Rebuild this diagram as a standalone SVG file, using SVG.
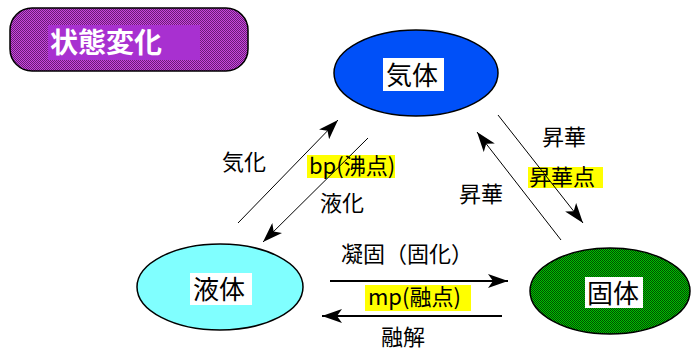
<svg xmlns="http://www.w3.org/2000/svg" width="691" height="360" viewBox="0 0 691 360">
<defs>
<pattern id="purpleDither" width="2" height="2" patternUnits="userSpaceOnUse">
<rect width="2" height="2" fill="#c848dc"/>
<rect x="0" y="0" width="1" height="1" fill="#6a1a78"/>
<rect x="1" y="1" width="1" height="1" fill="#6a1a78"/>
</pattern>
<pattern id="greenDither" width="2" height="2" patternUnits="userSpaceOnUse">
<rect width="2" height="2" fill="#00c000"/>
<rect x="0" y="0" width="1" height="1" fill="#004a00"/>
<rect x="1" y="1" width="1" height="1" fill="#004a00"/>
</pattern>
<marker id="arrow" viewBox="0 0 20 14" refX="20" refY="7" markerWidth="20" markerHeight="14" markerUnits="userSpaceOnUse" orient="auto">
<path d="M0,0 L20,7 L0,14 L5,7 Z" fill="#000"/>
</marker>
</defs>
<style>
text{font-family:"Noto Sans CJK JP","Noto Sans",sans-serif;fill:#000}
.lbl{font-size:22px}
.node{stroke:#000;stroke-width:1.5}
.box{fill:#fff}
.hl{fill:#ffff00}
.conn{stroke:#000;stroke-width:1;fill:none;marker-end:url(#arrow)}
.conn2{stroke:#000;stroke-width:2;fill:none;marker-end:url(#arrow)}
</style>
<rect width="691" height="360" fill="#fff"/>
<g id="title">
<rect x="10" y="8" width="238" height="63" rx="22" ry="22" fill="url(#purpleDither)" stroke="#000" stroke-width="1.5"/>
<rect x="48" y="25" width="152" height="35" fill="#a830d0"/>
<text x="50" y="53" font-size="28" font-weight="bold" style="fill:#fff">状態変化</text>
</g>
<g id="gas">
<ellipse class="node" cx="416" cy="73" rx="82" ry="43" fill="#0050f8"/>
<rect class="box" x="383" y="58" width="61" height="33"/>
<text x="386" y="85" font-size="26">気体</text>
</g>
<g id="liquid">
<ellipse class="node" cx="220" cy="287" rx="83" ry="43" fill="#80ffff"/>
<rect class="box" x="190" y="273" width="62" height="32"/>
<text x="193" y="299" font-size="26">液体</text>
</g>
<g id="solid">
<ellipse class="node" cx="610" cy="291" rx="80" ry="43" fill="url(#greenDither)"/>
<rect class="box" x="585" y="277" width="58" height="31"/>
<text x="587" y="303" font-size="26">固体</text>
</g>
<g id="labels">
<text class="lbl" x="222" y="170">気化</text>
<rect class="hl" x="307" y="155" width="88" height="23"/>
<text class="lbl" x="309" y="174" font-size="20">bp(沸点)</text>
<text class="lbl" x="320" y="211">液化</text>
<text class="lbl" x="542" y="145">昇華</text>
<rect class="hl" x="528" y="167" width="75" height="21"/>
<text class="lbl" x="529" y="185">昇華点</text>
<text class="lbl" x="459" y="202">昇華</text>
<text class="lbl" x="341" y="262">凝固（固化）</text>
<rect class="hl" x="365" y="285" width="106" height="26"/>
<text class="lbl" x="368" y="305" font-size="20">mp(融点)</text>
<text class="lbl" x="381" y="345">融解</text>
</g>
<g id="connectors">
<line class="conn" x1="238" y1="223" x2="338" y2="120"/>
<line class="conn" x1="368" y1="138" x2="263" y2="242"/>
<line class="conn" x1="498" y1="115" x2="583" y2="223"/>
<line class="conn" x1="561" y1="240" x2="477" y2="132"/>
<line class="conn2" x1="330" y1="281" x2="508" y2="281"/>
<line class="conn2" x1="502" y1="316" x2="322" y2="316"/>
</g>
</svg>
